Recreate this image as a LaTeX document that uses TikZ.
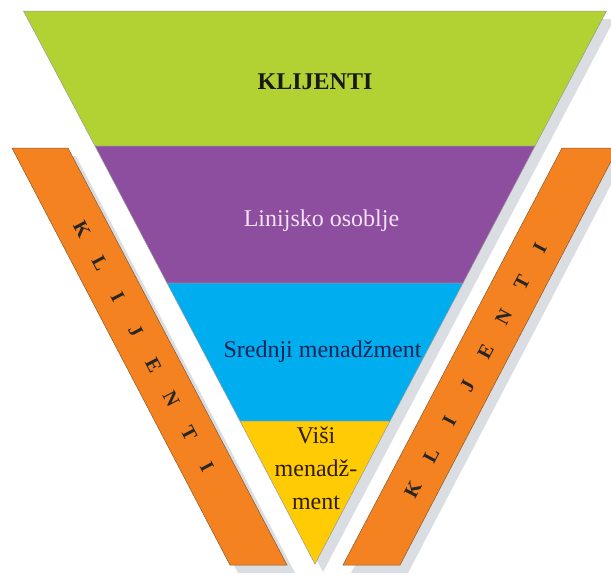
\documentclass[tikz,border=0pt]{standalone}
\usepackage{fontspec}
\setmainfont{Liberation Serif}
\usepackage{tikz}
\usetikzlibrary{positioning}
\definecolor{zelena}{RGB}{178,210,52}
\definecolor{ljubicasta}{RGB}{142,78,160}
\definecolor{plava}{RGB}{0,174,239}
\definecolor{zuta}{RGB}{255,203,5}
\definecolor{narandzasta}{RGB}{245,130,32}
\definecolor{sjena}{RGB}{218,221,226}
\definecolor{svijetliTekst}{RGB}{243,226,246}
\definecolor{tamnoPlavi}{RGB}{25,35,85}
\definecolor{tamniTekst}{RGB}{45,30,5}

\begin{document}
\begin{tikzpicture}[x=1pt,y=-1pt,
	sloj/.style={draw=black!40,line width=0.5pt},
	traka/.style={fill=narandzasta,draw=brown!70!black,line width=0.5pt},
	slovo/.style={font=\bfseries\fontsize{20}{24}\selectfont,text=black!85,inner sep=0pt}]
	\clip (0,0) rectangle (611,574);

	% rubovi piramide
	\coordinate (vrhL) at (23.5,11);
	\coordinate (vrhD) at (606.5,11);
	\coordinate (aL) at (95,146);
	\coordinate (aD) at (535,146);
	\coordinate (bL) at (167,283);
	\coordinate (bD) at (463,283);
	\coordinate (cL) at (240,421);
	\coordinate (cD) at (390,421);
	\coordinate (dno) at (315,564);

	% trake
	\coordinate (lt1) at (12,148);
	\coordinate (lt2) at (68,148);
	\coordinate (lt3) at (287,565);
	\coordinate (lt4) at (230,565);
	\coordinate (dt1) at (618,148);
	\coordinate (dt2) at (562,148);
	\coordinate (dt3) at (343,565);
	\coordinate (dt4) at (400,565);

	% sjene
	\begin{scope}[transform canvas={shift={(8,8)}}]
		\fill[sjena] (vrhL) -- (vrhD) -- (dno) -- cycle;
		\fill[sjena] (lt1) -- (lt2) -- (lt3) -- (lt4) -- cycle;
		\fill[sjena] (dt1) -- (dt2) -- (dt3) -- (dt4) -- cycle;
	\end{scope}

	% slojevi
	\filldraw[sloj,fill=zelena] (vrhL) -- (vrhD) -- (aD) -- (aL) -- cycle;
	\filldraw[sloj,fill=ljubicasta] (aL) -- (aD) -- (bD) -- (bL) -- cycle;
	\filldraw[sloj,fill=plava] (bL) -- (bD) -- (cD) -- (cL) -- cycle;
	\filldraw[sloj,fill=zuta] (cL) -- (cD) -- (dno) -- cycle;

	\filldraw[traka] (lt1) -- (lt2) -- (lt3) -- (lt4) -- cycle;
	\filldraw[traka] (dt1) -- (dt2) -- (dt3) -- (dt4) -- cycle;

	\begin{scope}[every node/.style={font=\fontsize{24}{33}\selectfont}]
		\node [font=\bfseries\fontsize{24}{28}\selectfont,text=black!90] (klijenti) at (315,82) {KLIJENTI};
		\node [text=svijetliTekst] (linijsko) at (321.5,221) {Linijsko osoblje};
		\node [text=tamnoPlavi] (srednji) at (322.5,352) {Srednji menadžment};
		\node [text=tamniTekst,align=center] (visi) at (316,468) {Viši\\menadž-\\ment};
	\end{scope}

	\begin{scope}[every node/.style={slovo,rotate=-62.3}]
		\node (lK) at (82,229) {K};
		\node (lL) at (99.9,263) {L};
		\node (lI) at (117.7,297) {I};
		\node (lJ) at (135.6,331) {J};
		\node (lE) at (153.4,365) {E};
		\node (lN) at (171.3,399) {N};
		\node (lT) at (189.1,433) {T};
		\node (lI2) at (207,467) {I};
	\end{scope}

	\begin{scope}[every node/.style={slovo,rotate=62.3}]
		\node (dK) at (413,490) {K};
		\node (dL) at (431.1,455.4) {L};
		\node (dI) at (449.3,420.9) {I};
		\node (dJ) at (467.4,386.3) {J};
		\node (dE) at (485.6,351.7) {E};
		\node (dN) at (503.7,317.1) {N};
		\node (dT) at (521.9,282.6) {T};
		\node (dI2) at (540,248) {I};
	\end{scope}
\end{tikzpicture}
\end{document}
